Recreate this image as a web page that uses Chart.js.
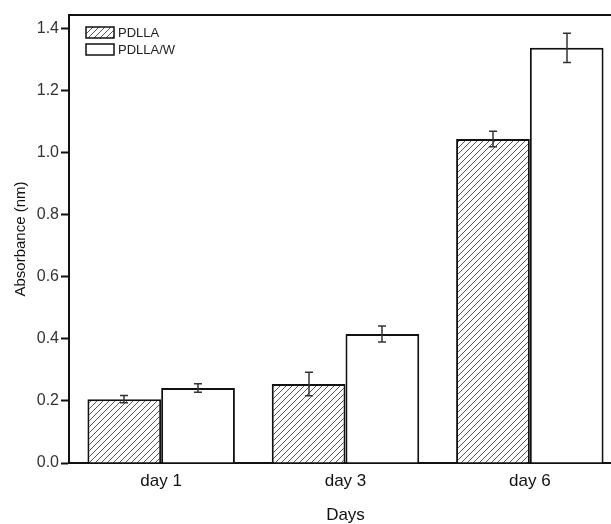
<!DOCTYPE html>
<html>
<head>
<meta charset="utf-8">
<script src="https://cdn.jsdelivr.net/npm/chart.js@4/dist/chart.umd.min.js"></script>
<style>
  body { margin: 0; background: #fff; overflow: hidden; }
  #wrap { width: 622px; height: 524px; }
</style>
</head>
<body>
<div id="wrap"><canvas id="myChart"></canvas></div>
<script>
// data
var days = ["day 1", "day 3", "day 6"];
var pdlla = [0.206, 0.255, 1.045];
var pdllaErr = [0.012, 0.038, 0.025];
var pdllaW = [0.242, 0.416, 1.339];
var pdllaWErr = [0.014, 0.026, 0.047];
var yTicks = [0, 0.2, 0.4, 0.6, 0.8, 1.0, 1.2, 1.4];

var font = "'Liberation Sans', Arial, sans-serif";

// diagonal hatch
function hatch() {
    var c = document.createElement('canvas');
    c.width = 6; c.height = 6;
    var g = c.getContext('2d');
    g.fillStyle = '#fff';
    g.fillRect(0, 0, 6, 6);
    g.strokeStyle = '#555';
    g.lineWidth = 1;
    g.beginPath();
    g.moveTo(0, 6); g.lineTo(6, 0);
    g.moveTo(-1, 1); g.lineTo(1, -1);
    g.moveTo(5, 7); g.lineTo(7, 5);
    g.stroke();
    return g.createPattern(c, 'repeat');
}
var hatchFill = hatch();

var errors = [pdllaErr, pdllaWErr];

var extras = {
    id: 'extras',
    afterDatasetsDraw: function (chart) {
        var ctx = chart.ctx, y = chart.scales.y;
        ctx.save();
        ctx.strokeStyle = '#333';
        ctx.lineWidth = 1.5;
        chart.data.datasets.forEach(function (ds, di) {
            chart.getDatasetMeta(di).data.forEach(function (bar, i) {
                var v = ds.data[i], e = errors[di][i];
                var x = Math.round(bar.x);
                var y1 = y.getPixelForValue(v + e), y2 = y.getPixelForValue(v - e);
                ctx.beginPath();
                ctx.moveTo(x, y1); ctx.lineTo(x, y2);
                ctx.moveTo(x - 4, y1); ctx.lineTo(x + 4, y1);
                ctx.moveTo(x - 4, y2); ctx.lineTo(x + 4, y2);
                ctx.stroke();
            });
        });
        ctx.restore();
    },
    afterDraw: function (chart) {
        var ctx = chart.ctx, a = chart.chartArea;
        ctx.save();
        // top frame
        ctx.strokeStyle = '#111';
        ctx.lineWidth = 2;
        ctx.beginPath();
        ctx.moveTo(a.left - 1, a.top);
        ctx.lineTo(a.right, a.top);
        ctx.stroke();
        // legend
        ctx.font = "13px " + font;
        ctx.textBaseline = 'middle';
        chart.data.datasets.forEach(function (ds, i) {
            var bx = 86, by = 27 + i * 17;
            ctx.fillStyle = ds.backgroundColor;
            ctx.fillRect(bx, by, 28, 11);
            ctx.strokeStyle = '#111';
            ctx.lineWidth = 1.5;
            ctx.strokeRect(bx, by, 28, 11);
            ctx.fillStyle = '#222';
            ctx.fillText(ds.label, bx + 32, by + 6);
        });
        ctx.restore();
    }
};

var ctx = document.getElementById('myChart').getContext('2d');
var chart = new Chart(ctx, {
    type: 'bar',
    data: {
        labels: days,
        datasets: [{
            label: "PDLLA",
            data: pdlla,
            backgroundColor: hatchFill,
            borderColor: '#111',
            borderWidth: 2,
            borderSkipped: 'bottom'
        }, {
            label: "PDLLA/W",
            data: pdllaW,
            backgroundColor: '#fff',
            borderColor: '#111',
            borderWidth: 2,
            borderSkipped: 'bottom'
        }]
    },
    options: {
        responsive: true,
        maintainAspectRatio: false,
        animation: false,
        layout: { padding: { top: 15, right: 0, left: 0, bottom: 0 } },
        datasets: { bar: { categoryPercentage: 0.8, barPercentage: 1.0 } },
        plugins: { legend: { display: false }, tooltip: { enabled: false } },
        scales: {
            x: {
                grid: { display: false },
                border: { display: true, color: '#111', width: 2 },
                ticks: { color: '#111', font: { family: font, size: 17 }, padding: 0 },
                title: { display: true, text: 'Days', color: '#111', font: { family: font, size: 17 }, padding: { top: 4, bottom: -2 } },
                afterFit: function (s) { s.height = 61; }
            },
            y: {
                min: 0,
                max: 1.445,
                grid: { drawOnChartArea: false, drawTicks: true, tickLength: 8, tickWidth: 2, tickColor: '#111' },
                border: { display: true, color: '#111', width: 2 },
                ticks: {
                    stepSize: 0.2,
                    includeBounds: false,
                    color: '#333',
                    padding: 2,
                    font: { family: font, size: 16 },
                    callback: function (v) { return yTicks.indexOf(Math.round(v * 10) / 10) >= 0 ? v.toFixed(1) : ''; }
                },
                title: { display: true, text: 'Absorbance (nm)', color: '#111', font: { family: font, size: 15 }, padding: { top: 12, bottom: 0 } },
                afterFit: function (s) { s.width = 69; }
            }
        }
    },
    plugins: [extras]
});
</script>
</body>
</html>
